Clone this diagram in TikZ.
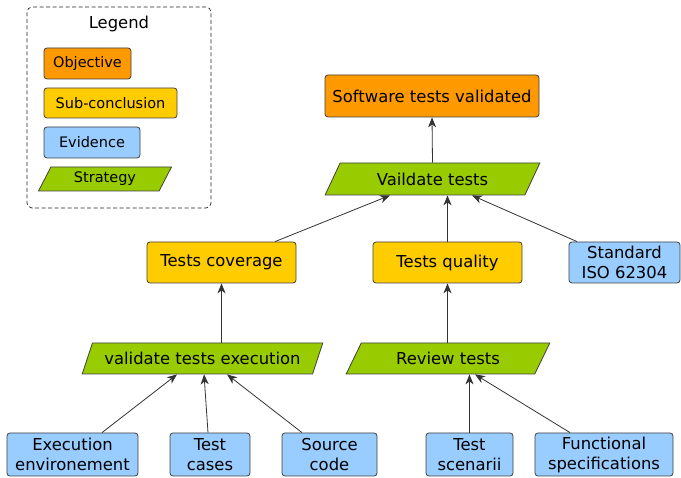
\documentclass[tikz,border=0pt]{standalone}
\usepackage{fontspec}
\setmainfont{DejaVu Sans}
\usetikzlibrary{arrows.meta}
\usetikzlibrary{shapes.geometric}

\begin{document}
\begin{tikzpicture}[x=1pt,y=-1pt,
>={Stealth[length=10pt,width=8pt,inset=3pt]},
every node/.style={font=\fontsize{16.4}{20}\selectfont},
lgd/.style={font=\fontsize{14.5}{17}\selectfont}]
\tikzstyle{box} = [draw=black!75, line width=0.8pt, rounded corners=3pt, align=center, inner sep=2pt]
\tikzstyle{obj} = [box, fill={rgb,255:red,255;green,153;blue,0}]
\tikzstyle{sub} = [box, fill={rgb,255:red,255;green,204;blue,0}]
\tikzstyle{evi} = [box, fill={rgb,255:red,153;green,204;blue,255}]
\tikzstyle{strat} = [draw=black!75, line width=0.8pt, trapezium, trapezium left angle=58, trapezium right angle=122, trapezium stretches=true, inner sep=1pt, fill={rgb,255:red,153;green,204;blue,0}]
\tikzstyle{arr} = [->, line width=0.8pt, draw=black!80]

\useasboundingbox (0,0) rectangle (681,478);

% Legend
\node[draw=black!85, line width=0.7pt, dash pattern=on 4pt off 2.5pt, rounded corners=5pt, minimum width=184, minimum height=201](legend) at (119,107.5){};
\node(ltitle) at (119,23.5){Legend};
\node[obj,lgd,minimum width=87,minimum height=31](lobj) at (87.5,63.5){Objective};
\node[sub,lgd,minimum width=133,minimum height=30](lsub) at (110.5,103){Sub-conclusion};
\node[evi,lgd,minimum width=96,minimum height=31](levi) at (92,142.5){Evidence};
\node[strat,lgd,trapezium left angle=65,trapezium right angle=115,minimum width=134,minimum height=24](lstrat) at (105,179){Strategy};

% Top
\node[obj,minimum width=214,minimum height=42](sw) at (432,96){Software tests validated};
\node[strat,minimum width=215,minimum height=32](vt) at (432.5,179){Vaildate tests};

% Middle
\node[sub,minimum width=149,minimum height=41](tcov) at (221.5,262.5){Tests coverage};
\node[sub,minimum width=149,minimum height=41](tq) at (447.5,262.5){Tests quality};
\node[evi,minimum width=111,minimum height=41](std) at (624.5,262.5){Standard\\ISO 62304};

\node[strat,minimum width=241,minimum height=31](vte) at (202.5,358.5){validate tests execution};
\node[strat,minimum width=204,minimum height=31](rt) at (448,358.5){Review tests};

% Evidences
\node[evi,minimum width=131,minimum height=43](ee) at (72.5,454.5){Execution\\environement};
\node[evi,minimum width=80,minimum height=43](tcs) at (210,454.5){Test\\cases};
\node[evi,minimum width=95,minimum height=43](sc) at (329.5,454.5){Source\\code};
\node[evi,minimum width=87,minimum height=43](ts) at (469.5,454.5){Test\\scenarii};
\node[evi,minimum width=138,minimum height=43](fs) at (604,454.5){Functional\\specifications};

\draw[arr] (vt.north) -- (sw.south);
\draw[arr] ([xshift=53.5]tcov.north) -- ([xshift=-42.5]vt.south);
\draw[arr] (tq.north) -- (tq.north |- vt.south);
\draw[arr] ([xshift=-47.5]std.north) -- ([xshift=39.5]vt.south);

\draw[arr] (tcov.south |- vte.north) -- (tcov.south);
\draw[arr] (tq.south |- rt.north) -- (tq.south);

\draw[arr] ([xshift=29.5]ee.north) -- ([xshift=-25.5]vte.south);
\draw[arr] ([xshift=-2]tcs.north) -- ([xshift=1.5]vte.south);
\draw[arr] ([xshift=-27.5]sc.north) -- ([xshift=24.5]vte.south);
\draw[arr] (ts.north) -- (ts.north |- rt.south);
\draw[arr] ([xshift=-34]fs.north) -- ([xshift=27]rt.south);

\end{tikzpicture}
\end{document}
